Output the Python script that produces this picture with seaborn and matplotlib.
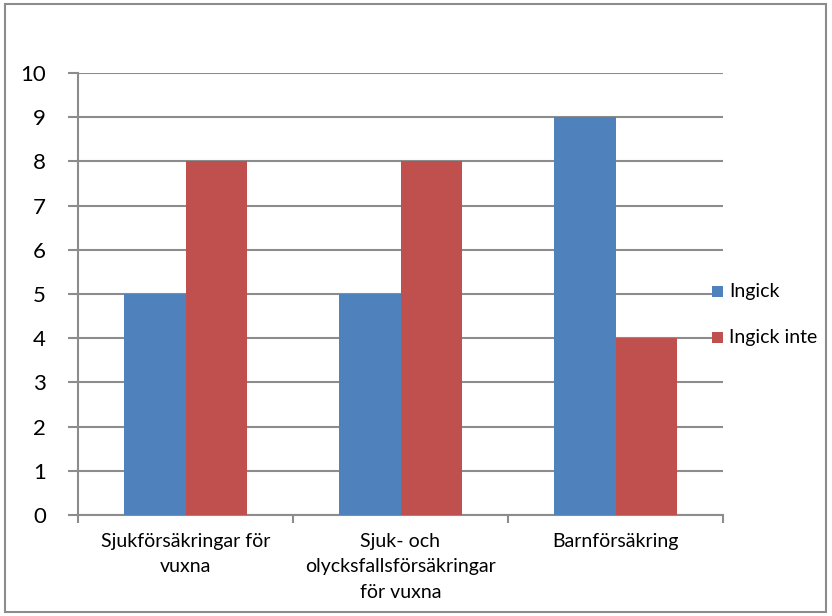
import matplotlib
matplotlib.use("Agg")
import matplotlib.pyplot as plt
import seaborn as sns
import pandas as pd
from matplotlib.patches import Rectangle

categories = ["Sjukförsäkringar för\nvuxna",
              "Sjuk- och\nolycksfallsförsäkringar\nför vuxna",
              "Barnförsäkring"]
series_names = ["Ingick", "Ingick inte"]
ingick = [5, 5, 9]
ingick_inte = [8, 8, 4]
y_ticks = [0, 1, 2, 3, 4, 5, 6, 7, 8, 9, 10]

df = pd.DataFrame({
    "kategori": categories * 2,
    "serie": [series_names[0]] * 3 + [series_names[1]] * 3,
    "antal": ingick + ingick_inte,
})

sns.set_theme(style="white")
plt.rcParams["font.family"] = ["Lato", "DejaVu Sans"]

W, H = 832, 616
fig = plt.figure(figsize=(W / 100, H / 100), dpi=100)
ax = fig.add_axes([78 / W, 1 - 515 / H, (723 - 78) / W, (515 - 73) / H])

palette = {"Ingick": "#4F81BD", "Ingick inte": "#C0504D"}
sns.barplot(data=df, x="kategori", y="antal", hue="serie", order=categories,
            hue_order=series_names, palette=palette, width=0.572, gap=0,
            saturation=1, linewidth=0, ax=ax, legend=False, zorder=3)

grid_col = "#8c8c8c"
ax.set_ylim(0, 10)
ax.set_xlim(-0.5, 2.5)
ax.set_yticks(y_ticks)
ax.set_yticklabels([str(v) for v in y_ticks], fontsize=16, color="black")
ax.yaxis.grid(True, color=grid_col, linewidth=1.5, zorder=0)
ax.set_axisbelow(True)
ax.set_xlabel("")
ax.set_ylabel("")

# category boundary ticks on the x axis
ax.set_xticks([-0.5, 0.5, 1.5, 2.5])
ax.set_xticklabels([])
ax.set_xticks([0, 1, 2], minor=True)
ax.set_xticklabels(categories, minor=True, fontsize=14, color="black",
                   linespacing=1.6, va="top")
ax.tick_params(axis="x", which="major", length=6, width=1.5, color=grid_col,
               direction="out", bottom=True)
ax.tick_params(axis="x", which="minor", length=0, pad=13)
ax.tick_params(axis="y", length=7, width=1.5, color=grid_col, direction="out",
               left=True, pad=16)

for side in ["top", "right"]:
    ax.spines[side].set_visible(False)
for side in ["left", "bottom"]:
    ax.spines[side].set_color(grid_col)
    ax.spines[side].set_linewidth(1.5)

# legend drawn as colour squares with labels
for i, name in enumerate(series_names):
    yc = 291 + i * 46
    fig.patches.append(Rectangle((712 / W, 1 - (yc + 6) / H), 11 / W, 11 / H,
                                 transform=fig.transFigure,
                                 facecolor=palette[name], edgecolor="none"))
    fig.text(729 / W, 1 - yc / H, name, fontsize=14, va="center", ha="left",
             color="black")

# outer chart border
fig.patches.append(Rectangle((5 / W, 4 / H), (826 - 5) / W, (612 - 4) / H,
                             transform=fig.transFigure, facecolor="none",
                             edgecolor="#8c8c8c", linewidth=1.5))

fig.savefig("out.png", dpi=100)
